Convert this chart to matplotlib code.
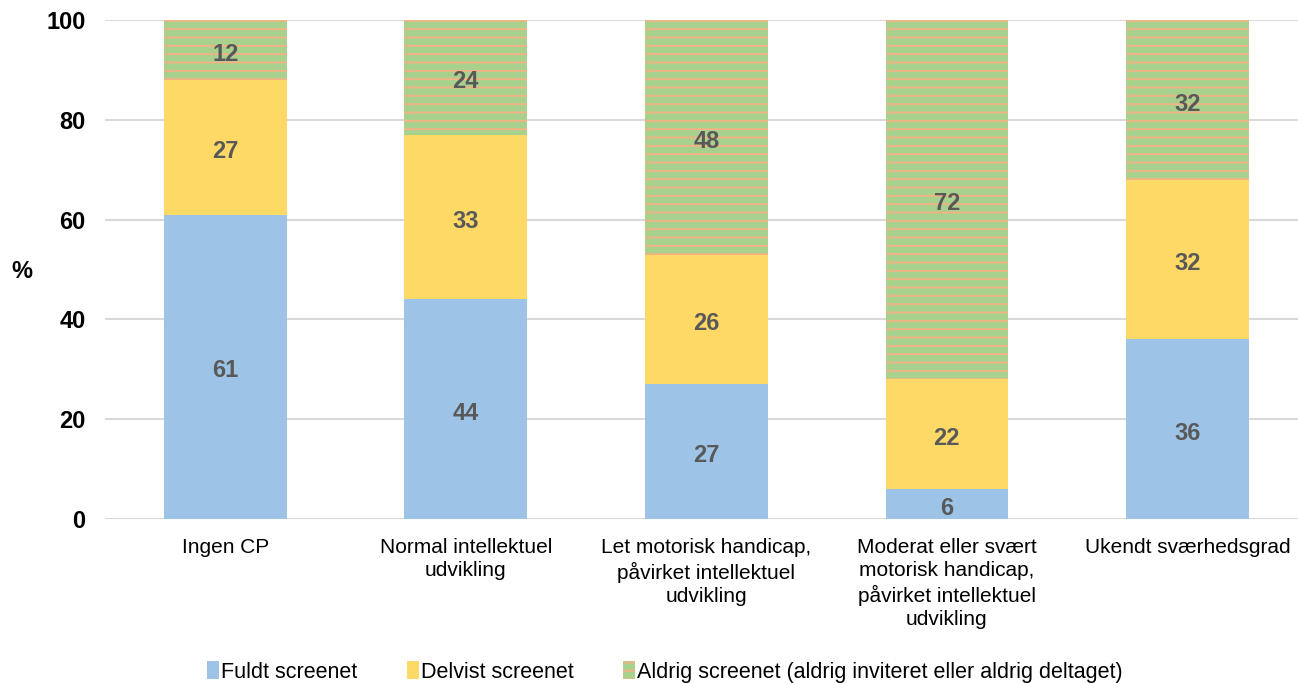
import numpy as np
import matplotlib
matplotlib.use("Agg")
import matplotlib.pyplot as plt

plt.rcParams.update({
    "font.family": ["Liberation Sans", "DejaVu Sans"],
    "font.size": 15,
    "hatch.linewidth": 1.3,
})

categories = [
    "Ingen CP",
    "Normal intellektuel\nudvikling",
    "Let motorisk handicap,\npåvirket intellektuel\nudvikling",
    "Moderat eller svært\nmotorisk handicap,\npåvirket intellektuel\nudvikling",
    "Ukendt sværhedsgrad",
]
fuldt = [61, 44, 27, 6, 36]
delvist = [27, 33, 26, 22, 32]
aldrig = [12, 24, 48, 72, 32]
series_names = [
    "Fuldt screenet",
    "Delvist screenet",
    "Aldrig screenet (aldrig inviteret eller aldrig deltaget)",
]

blue = "#9DC3E6"
yellow = "#FFD966"
green = "#A9D18E"
orange = "#F4B183"
label_color = "#595959"

fig = plt.figure(figsize=(12.98, 6.83), dpi=100)
ax = fig.add_axes([0.0809, 0.2401, 0.9191, 0.7306])

x = np.arange(len(categories))
w = 0.51
b1 = ax.bar(x, fuldt, w, color=blue, label=series_names[0], zorder=2)
b2 = ax.bar(x, delvist, w, bottom=fuldt, color=yellow,
            label=series_names[1], zorder=2)
bottom3 = np.array(fuldt) + np.array(delvist)
b3 = ax.bar(x, aldrig, w, bottom=bottom3, color=green, edgecolor=orange,
            hatch="--", linewidth=0, label=series_names[2], zorder=2)

# value labels, nudged slightly down like the original
for bars, vals in [(b1, fuldt), (b2, delvist), (b3, aldrig)]:
    texts = ax.bar_label(bars, labels=[str(v) for v in vals],
                         label_type="center", color=label_color,
                         fontweight="bold", fontsize=17)
    for t in texts:
        t.xyann = (0, -3)

ax.set_ylim(0, 100)
ax.set_xlim(-0.5, 4.46)
ax.set_yticks(np.arange(0, 101, 20))
ax.yaxis.grid(True, color="#D9D9D9", lw=1.5, zorder=0)
ax.set_axisbelow(True)
for s in ax.spines.values():
    s.set_visible(False)
ax.tick_params(axis="both", length=0)
ax.tick_params(axis="y", pad=14, labelsize=17)
ax.tick_params(axis="x", pad=14)
for t in ax.get_yticklabels():
    t.set_fontweight("bold")
ax.set_xticks(x)
ax.set_xticklabels(categories, fontsize=15, linespacing=1.26)

fig.text(22 / 1298, 1 - 272 / 683, "%", fontsize=17, fontweight="bold",
         ha="center", va="center")

fig.legend(handles=[b1, b2, b3], loc="center",
           bbox_to_anchor=(665 / 1298, 1 - 672 / 683), ncol=3, frameon=False,
           fontsize=15.5, handlelength=0.55, handleheight=0.9,
           handletextpad=0.1, columnspacing=2.3)

fig.savefig("out.png", dpi=100)
